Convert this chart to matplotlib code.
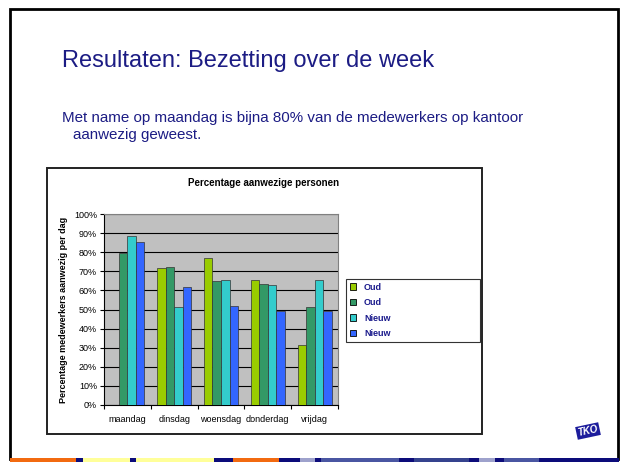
import numpy as np
import matplotlib
matplotlib.use("Agg")
import matplotlib.pyplot as plt
from matplotlib.patches import Rectangle, Patch

plt.rcParams['font.family'] = ['Liberation Sans', 'DejaVu Sans']

categories = ["maandag", "dinsdag", "woensdag", "donderdag", "vrijdag"]
series_names = ["Oud", "Oud", "Nieuw", "Nieuw"]
oud_1 = [np.nan, 71.5, 77.0, 65.5, 31.5]
oud_2 = [79.5, 72.0, 65.0, 63.5, 51.5]
nieuw_1 = [88.5, 51.5, 65.5, 63.0, 65.5]
nieuw_2 = [85.5, 62.0, 52.0, 49.0, 49.0]
series_values = [oud_1, oud_2, nieuw_1, nieuw_2]
series_colors = ["#99CC00", "#339966", "#33CCCC", "#3366FF"]
y_ticks = list(range(0, 101, 10))
y_tick_labels = [f"{v}%" for v in y_ticks]

W, H = 621, 462
fig = plt.figure(figsize=(W / 100, H / 100), dpi=100)
fig.patch.set_facecolor("white")

def fx(x):
    return x / W

def fy(y):
    return 1 - y / H

navy = "#1C1C84"

# slide border
fig.patches.append(Rectangle((fx(10), fy(459)), fx(608), (450) / H, transform=fig.transFigure,
                             fill=False, edgecolor="black", linewidth=2.0, zorder=0))

# bottom colour strip
strip = [(10, 76, "#F26A10"), (76, 83, "#0C0C7A"), (83, 130, "#FFFF99"), (130, 136, "#0C0C7A"),
         (136, 214, "#FFFF99"), (214, 233, "#0C0C7A"), (233, 279, "#F26A10"), (279, 300, "#0C0C7A"),
         (300, 315, "#9EA2CC"), (315, 321, "#0C0C7A"), (321, 399, "#4A56A2"), (399, 414, "#0C0C7A"),
         (414, 469, "#35438E"), (469, 479, "#0C0C7A"), (479, 495, "#9EA2CC"), (495, 504, "#0C0C7A"),
         (504, 539, "#4A56A2"), (539, 619, "#0C0C7A")]
for x0, x1, c in strip:
    fig.patches.append(Rectangle((fx(x0), 0), fx(x1 - x0), 4 / H, transform=fig.transFigure,
                                 facecolor=c, edgecolor="none", zorder=1))

# slide texts
fig.text(fx(62), fy(67), "Resultaten: Bezetting over de week", fontsize=17, color=navy, va="baseline")
fig.text(fx(62), fy(122), "Met name op maandag is bijna 80% van de medewerkers op kantoor",
         fontsize=10.9, color=navy, va="baseline")
fig.text(fx(73), fy(139), "aanwezig geweest.", fontsize=10.9, color=navy, va="baseline")

# chart box
fig.patches.append(Rectangle((fx(47), fy(434)), fx(482 - 47), (434 - 168) / H, transform=fig.transFigure,
                             facecolor="white", edgecolor="#222222", linewidth=1.4, zorder=2))
fig.text(fx(264), fy(183), "Percentage aanwezige personen", fontsize=7, fontweight="bold",
         ha="center", va="center", zorder=3)

ax = fig.add_axes([fx(104), fy(405), fx(338 - 104), (405 - 214) / H], zorder=4)
ax.set_facecolor("#C0C0C0")
n = len(series_values)
w = 1 / (n + 1.5)
x = np.arange(len(categories))
for j, (vals, col) in enumerate(zip(series_values, series_colors)):
    ax.bar(x + (j - (n - 1) / 2) * w, vals, width=w, color=col, edgecolor="#333333",
           linewidth=0.5, zorder=3, label=series_names[j])
ax.set_xlim(-0.5, len(categories) - 0.5)
ax.set_ylim(0, 100)
ax.set_yticks(y_ticks)
ax.set_yticklabels(y_tick_labels, fontsize=6.5)
ax.yaxis.grid(True, color="black", linewidth=0.8, zorder=1)
ax.set_axisbelow(True)
ax.set_xticks(x)
ax.set_xticklabels(categories, fontsize=6.5)
ax.tick_params(axis="x", which="major", length=0, pad=7)
ax.set_xticks(np.arange(-0.5, len(categories)), minor=True)
ax.tick_params(axis="x", which="minor", length=3, direction="out", width=0.8)
ax.tick_params(axis="y", length=3, direction="out", width=0.8, pad=2)
for s in ["top", "right"]:
    ax.spines[s].set_color("#808080")
    ax.spines[s].set_linewidth(0.8)
for s in ["left", "bottom"]:
    ax.spines[s].set_color("black")
    ax.spines[s].set_linewidth(0.8)
fig.text(fx(63), fy(310), "Percentage medewerkers aanwezig per dag", fontsize=6.5, fontweight="bold",
         rotation=90, ha="center", va="center", zorder=5)

handles = [Patch(facecolor=c, edgecolor="black", linewidth=0.6) for c in series_colors]
leg = fig.legend(handles, series_names, loc="upper left",
                 bbox_to_anchor=(fx(346), fy(339), fx(480 - 346), (339 - 279) / H),
                 mode="expand", fancybox=False, edgecolor="#333333", framealpha=1,
                 prop={"size": 6.5, "weight": "bold"}, handlelength=0.7, handleheight=0.7,
                 labelspacing=0.72, borderpad=0.4, handletextpad=0.9, borderaxespad=0)
leg.get_frame().set_linewidth(0.8)
leg.set_zorder(6)
for t in leg.get_texts():
    t.set_color("#1A1A8C")

# logo
fig.text(fx(588), fy(431), "TKO", fontsize=7, fontweight="bold", fontstyle="italic", color="white",
         ha="center", va="center", rotation=12,
         bbox=dict(boxstyle="square,pad=0.15", facecolor="#1C1C9C", edgecolor="none"))

fig.savefig("out.png", dpi=100)
